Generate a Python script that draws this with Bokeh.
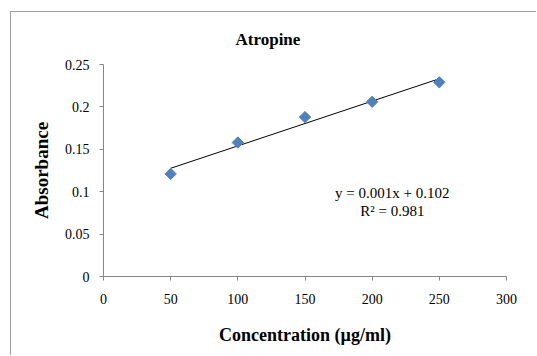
import numpy as np
from bokeh.plotting import figure
from bokeh.models import Label, Range1d, FixedTicker, Title
from bokeh.embed import file_html
from bokeh.resources import INLINE

conc = [50, 100, 150, 200, 250]
absorbance = [0.121, 0.158, 0.188, 0.206, 0.229]
x_ticks = [0, 50, 100, 150, 200, 250, 300]
y_ticks = [0, 0.05, 0.1, 0.15, 0.2, 0.25]
y_tick_labels = {0: "0", 0.05: "0.05", 0.1: "0.1", 0.15: "0.15", 0.2: "0.2", 0.25: "0.25"}
title_text = "Atropine"
eq_text = "y = 0.001x + 0.102"
r2_text = "R² = 0.981"

SERIF = "Liberation Serif"
AXIS_COL = "#878787"

p = figure(width=526, height=344, output_backend="svg", toolbar_location=None,
           x_range=Range1d(0, 300), y_range=Range1d(0, 0.25),
           min_border_left=92, min_border_right=31, min_border_top=52, min_border_bottom=80)
p.styles = {"border-left": "1px solid #a0a0a0", "border-top": "1px solid #a0a0a0",
            "margin-left": "10px", "margin-top": "11px"}
p.outline_line_color = None
p.grid.visible = False
p.background_fill_color = "white"
p.border_fill_color = "white"

t = Title(text=title_text, align="left", offset=132, standoff=28, vertical_align="top",
          text_font=SERIF, text_font_size="17px", text_font_style="bold", text_color="black")
p.add_layout(t, "above")

p.xaxis.ticker = FixedTicker(ticks=x_ticks)
p.yaxis.ticker = FixedTicker(ticks=y_ticks)
p.yaxis.major_label_overrides = y_tick_labels
for ax in (p.xaxis, p.yaxis):
    ax.axis_line_color = AXIS_COL
    ax.major_tick_line_color = AXIS_COL
    ax.minor_tick_line_color = None
    ax.major_tick_in = 0
    ax.major_tick_out = 4
    ax.major_label_text_font = SERIF
    ax.major_label_text_font_size = "14px"
    ax.major_label_text_color = "black"
    ax.axis_label_text_font = SERIF
    ax.axis_label_text_font_size = "18px"
    ax.axis_label_text_font_style = "bold"
    ax.axis_label_text_color = "black"
p.xaxis.axis_label = "Concentration (µg/ml)"
p.yaxis.axis_label = "Absorbance"
p.yaxis.axis_label_text_font_size = "19px"
p.xaxis.major_label_standoff = 13
p.yaxis.major_label_standoff = 10
p.xaxis.axis_label_standoff = 18
p.yaxis.axis_label_standoff = 10

# linear trendline fitted to the data
slope, intercept = np.polyfit(conc, absorbance, 1)
fx = [conc[0], conc[-1]]
fy = [slope * v + intercept for v in fx]
p.line(fx, fy, line_color="black", line_width=1)

p.scatter(conc, absorbance, marker="square", angle=np.pi / 4, size=8,
          fill_color="#4F81BD", line_color="#4F81BD")

p.add_layout(Label(x=215, y=0.098, text=eq_text, text_align="center", text_baseline="middle",
                   text_font=SERIF, text_font_size="15px", text_color="black"))
p.add_layout(Label(x=215, y=0.077, text=r2_text, text_align="center", text_baseline="middle",
                   text_font=SERIF, text_font_size="15px", text_color="black"))

open("out.html", "w").write(file_html(p, INLINE))
